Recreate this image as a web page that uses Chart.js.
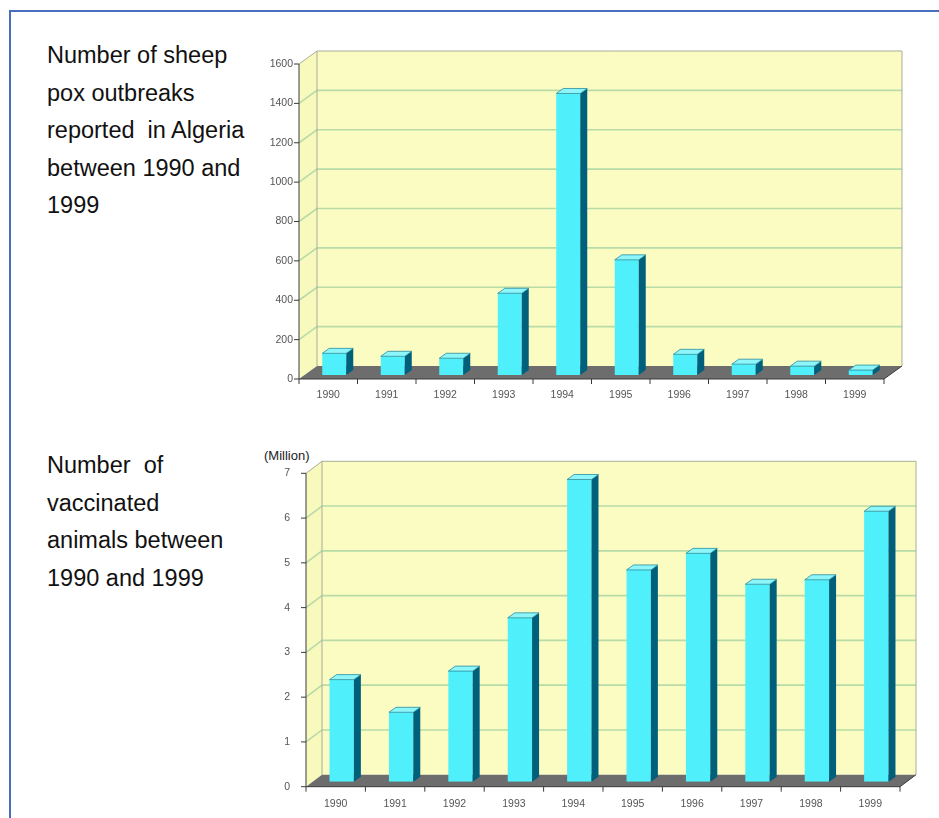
<!DOCTYPE html>
<html>
<head>
<meta charset="utf-8">
<script src="https://cdn.jsdelivr.net/npm/chart.js@4/dist/chart.umd.min.js"></script>
<style>
  html, body { margin: 0; padding: 0; background: #ffffff; }
  body { width: 939px; height: 818px; position: relative; overflow: hidden;
         font-family: "Liberation Sans", Arial, sans-serif; }
  .frame-top  { position: absolute; left: 9px; top: 10px; width: 930px; height: 2px; background: #4a6ebe; }
  .frame-left { position: absolute; left: 9px; top: 10px; width: 2px; height: 808px; background: #4a6ebe; }
  .caption { position: absolute; left: 47px; font-size: 23.5px; line-height: 37.5px;
             color: #111; white-space: nowrap; }
  .unit { position: absolute; left: 264px; top: 448px; font-size: 13px; color: #222; }
  canvas { position: absolute; filter: blur(0.45px); }
</style>
</head>
<body>
<div class="frame-top"></div>
<div class="frame-left"></div>

<div class="caption" style="top:37px">Number of sheep<br>pox outbreaks<br>reported&nbsp; in Algeria<br>between 1990 and<br>1999</div>
<div class="caption" style="top:447px">Number&nbsp; of<br>vaccinated<br>animals between<br>1990 and 1999</div>
<div class="unit">(Million)</div>

<canvas id="outbreaks" width="690" height="370" style="left:240px;top:40px"></canvas>
<canvas id="vaccinated" width="690" height="370" style="left:240px;top:440px"></canvas>

<script>
// Years on the category axis
const years = ['1990', '1991', '1992', '1993', '1994', '1995', '1996', '1997', '1998', '1999'];

// Sheep pox outbreaks reported per year
const outbreaks = [110, 95, 85, 415, 1430, 585, 105, 55, 45, 25];

// Vaccinated animals per year (millions)
const vaccinated = [2.28, 1.55, 2.47, 3.66, 6.75, 4.73, 5.10, 4.41, 4.51, 6.04];

// Value-axis tick labels
const outbreakTicks = [0, 200, 400, 600, 800, 1000, 1200, 1400, 1600];
const vaccinatedTicks = [0, 1, 2, 3, 4, 5, 6, 7];

// 3-D column look: the chart area is the plane the columns stand in;
// the front edge sits (sx, sy) before it and the back wall (dx, dy) behind the front.
const box3d = {
  id: 'box3d',
  beforeDatasetsDraw(chart, args, o) {
    const { ctx, chartArea: a, scales: { y } } = chart;
    const L = a.left - o.sx, R = a.right - o.sx;
    const y0 = y.getPixelForValue(0) - o.sy;
    const yT = y.getPixelForValue(y.max) - o.sy;
    const dx = o.dx, dy = o.dy;
    ctx.save();
    // back wall
    ctx.fillStyle = '#fbfcc2';
    ctx.fillRect(L + dx, yT - dy, R - L, y0 - yT);
    // side wall
    ctx.fillStyle = '#f8f9bd';
    ctx.beginPath();
    ctx.moveTo(L, yT); ctx.lineTo(L + dx, yT - dy); ctx.lineTo(L + dx, y0 - dy); ctx.lineTo(L, y0);
    ctx.closePath(); ctx.fill();
    // gridlines across side and back walls
    ctx.strokeStyle = '#b8dba8';
    ctx.lineWidth = 1.6;
    y.ticks.forEach(t => {
      if (t.value === 0 || t.value === y.max) return;
      const yy = y.getPixelForValue(t.value) - o.sy;
      ctx.beginPath();
      ctx.moveTo(L, yy); ctx.lineTo(L + dx, yy - dy); ctx.lineTo(R + dx, yy - dy);
      ctx.stroke();
    });
    // wall outlines
    ctx.strokeStyle = '#aaab98';
    ctx.lineWidth = 1;
    ctx.beginPath();
    ctx.moveTo(L, yT); ctx.lineTo(L + dx, yT - dy); ctx.lineTo(R + dx, yT - dy); ctx.lineTo(R + dx, y0 - dy);
    ctx.moveTo(L + dx, yT - dy); ctx.lineTo(L + dx, y0 - dy);
    ctx.stroke();
    // floor
    ctx.fillStyle = '#6c6d6c';
    ctx.beginPath();
    ctx.moveTo(L, y0); ctx.lineTo(R, y0); ctx.lineTo(R + dx, y0 - dy); ctx.lineTo(L + dx, y0 - dy);
    ctx.closePath(); ctx.fill();
    ctx.restore();
  },
  afterDatasetsDraw(chart, args, o) {
    const { ctx, chartArea: a, scales: { x, y } } = chart;
    const meta = chart.getDatasetMeta(0);
    ctx.save();
    // column side and top faces
    meta.data.forEach(el => {
      const { x: cx, y: top, base, width } = el.getProps(['x', 'y', 'base', 'width'], true);
      const l = cx - width / 2, r = cx + width / 2;
      ctx.fillStyle = '#005f7b';
      ctx.beginPath();
      ctx.moveTo(r, top); ctx.lineTo(r + o.bx, top - o.by); ctx.lineTo(r + o.bx, base - o.by); ctx.lineTo(r, base);
      ctx.closePath(); ctx.fill();
      ctx.fillStyle = '#8cf6fb';
      ctx.beginPath();
      ctx.moveTo(l, top); ctx.lineTo(l + o.bx, top - o.by); ctx.lineTo(r + o.bx, top - o.by); ctx.lineTo(r, top);
      ctx.closePath(); ctx.fill();
      ctx.strokeStyle = '#2b8d9d';
      ctx.lineWidth = 0.8;
      ctx.stroke();
    });
    // front axes, their tick marks and the floor's right edge
    const L = a.left - o.sx, R = a.right - o.sx;
    const y0 = y.getPixelForValue(0) - o.sy;
    const yT = y.getPixelForValue(y.max) - o.sy;
    ctx.strokeStyle = '#3a3a3a';
    ctx.lineWidth = 1;
    ctx.beginPath();
    ctx.moveTo(L, yT); ctx.lineTo(L, y0); ctx.lineTo(R, y0); ctx.lineTo(R + o.dx, y0 - o.dy);
    y.ticks.forEach(t => {
      const yy = y.getPixelForValue(t.value) - o.sy;
      ctx.moveTo(L - 5, yy); ctx.lineTo(L, yy);
    });
    const half = (x.getPixelForValue(1) - x.getPixelForValue(0)) / 2;
    for (let i = 0; i <= years.length; i++) {
      const bx = x.getPixelForValue(i) - half - o.sx;
      ctx.moveTo(bx, y0); ctx.lineTo(bx, y0 + 5);
    }
    ctx.stroke();
    ctx.restore();
  }
};

function columnChart(id, values, ticks, pad, xHeight, geo) {
  return new Chart(document.getElementById(id), {
    type: 'bar',
    data: {
      labels: years,
      datasets: [{
        data: values,
        backgroundColor: '#4ff0fb',
        borderWidth: 0,
        barPercentage: 0.41,
        categoryPercentage: 1
      }]
    },
    options: {
      responsive: false,
      animation: false,
      devicePixelRatio: 1,
      layout: { padding: pad },
      plugins: {
        legend: { display: false },
        tooltip: { enabled: false },
        box3d: geo
      },
      scales: {
        x: {
          grid: { display: false, drawTicks: false },
          border: { display: false },
          ticks: { color: '#555', font: { family: 'Liberation Sans', size: 10.5 },
                   padding: geo.xPad, labelOffset: -geo.sx, maxRotation: 0 },
          afterFit(s) { s.height = xHeight; }
        },
        y: {
          min: 0,
          max: ticks[ticks.length - 1],
          afterBuildTicks(s) { s.ticks = ticks.map(v => ({ value: v })); },
          grid: { display: false, drawTicks: false },
          border: { display: false },
          ticks: { color: '#555', font: { family: 'Liberation Sans', size: 10.5 },
                   padding: geo.yPad, labelOffset: -geo.sy, callback: v => String(v) },
          afterFit(s) { s.width = 50; }
        }
      }
    },
    plugins: [box3d]
  });
}

columnChart('outbreaks', outbreaks, outbreakTicks,
  { left: 15, right: 40, top: 20, bottom: 0 }, 35,
  { sx: 6, sy: -4, dx: 18, dy: 13, bx: 7, by: 5, xPad: 14, yPad: 12 });
columnChart('vaccinated', vaccinated, vaccinatedTicks,
  { left: 22, right: 24, top: 24, bottom: 0 }, 28,
  { sx: 6, sy: -5, dx: 16, dy: 12, bx: 7, by: 5, xPad: 16, yPad: 22 });
</script>
</body>
</html>
